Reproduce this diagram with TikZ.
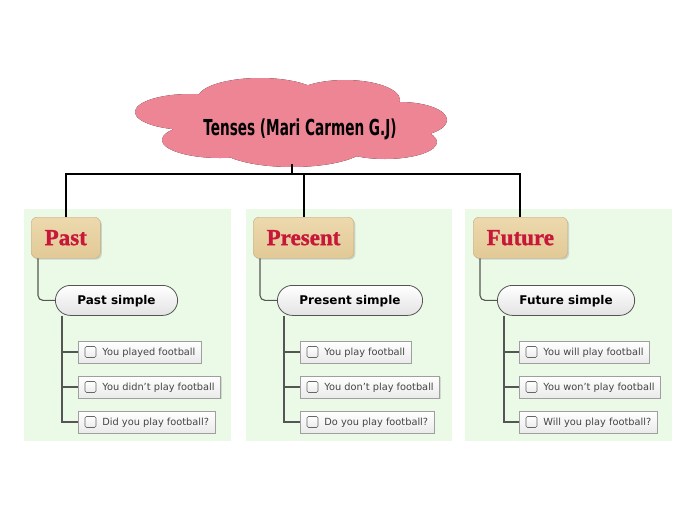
\documentclass[tikz,border=0pt]{standalone}
\usepackage{fontspec}
\setmainfont{DejaVu Sans}
\newfontfamily\titlefont[FakeStretch=0.62]{DejaVu Sans}
\newfontfamily\topicfont[FakeBold=1.3]{Liberation Serif}
\usetikzlibrary{shadows}
\definecolor{panelgreen}{HTML}{EBFAE6}
\definecolor{cloudpink}{HTML}{F88F9D}
\definecolor{clouddark}{HTML}{EE8595}
\definecolor{tantop}{HTML}{EDD9AE}
\definecolor{tanbot}{HTML}{E2C996}
\definecolor{topicred}{HTML}{C8183A}
\definecolor{linegray}{HTML}{555555}
\definecolor{itemtext}{HTML}{444444}
\begin{document}
\begin{tikzpicture}[x=1pt,y=-1pt,
  panel/.style={fill=panelgreen,draw=none},
  topic/.style={draw=tanbot!85!black, line width=0.4pt, top color=tantop, bottom color=tanbot,
    rounded corners=6, minimum height=41, inner xsep=13.5, inner ysep=0,
    font=\topicfont\bfseries\fontsize{23}{23}\selectfont, text=topicred, anchor=north west,
    drop shadow={shadow xshift=1.5pt, shadow yshift=-1.5pt, opacity=0.3}},
  pill/.style={draw=linegray, line width=0.8pt, rounded corners=15, top color=white, bottom color=gray!22,
    minimum height=30, inner xsep=22, inner ysep=0, text height=10, text depth=1.2,
    font=\bfseries\fontsize{12}{12}\selectfont, anchor=north west},
  item/.style={draw=gray!75, line width=0.7pt, top color=white, bottom color=gray!16,
    minimum height=22, inner xsep=6, inner ysep=0, text height=8, text depth=1,
    font=\fontsize{9.8}{10}\selectfont, text=itemtext, anchor=west,
    drop shadow={shadow xshift=1pt, shadow yshift=-1pt, opacity=0.25}},
  conn/.style={draw=linegray, line width=1.1pt},
  topconn/.style={draw=black, line width=2pt},
  cbox/.style={draw=gray!80!black, line width=0.6pt, rounded corners=1.5, top color=white, bottom color=gray!15}
]
\useasboundingbox (0,0) rectangle (696,520);

% cloud
\begin{scope}
\clip (190,112) ellipse [x radius=55, y radius=18]
      (260,98) ellipse [x radius=62, y radius=20]
      (345,100) ellipse [x radius=55, y radius=20]
      (400,120) ellipse [x radius=47, y radius=18]
      (385,142) ellipse [x radius=52, y radius=17]
      (220,140) ellipse [x radius=58, y radius=18]
      (292,145) ellipse [x radius=75, y radius=22]
      (292,122) ellipse [x radius=110, y radius=28];
\fill[top color=clouddark, middle color=cloudpink, bottom color=clouddark] (130,76) rectangle (450,170);
\end{scope}
\node[font=\titlefont\bfseries\fontsize{22}{22}\selectfont, text=black] (root) at (300,129) {Tenses (Mari Carmen G.J)};
\coordinate (cloudbot) at (292,164);
\coordinate (bus) at (292,174);

% panels
\fill[panel] (24,209) rectangle (231,441);
\fill[panel] (246,209) rectangle (452,441);
\fill[panel] (465,209) rectangle (672,441);

% nodes panel 1
\node[topic] (past) at (31,217) {Past};
\node[pill] (pastS) at (55,285) {Past simple};
\node[item] (pa1) at (78,352) {\hspace*{18pt}You played football};
\node[item] (pa2) at (78,387) {\hspace*{18pt}You didn't play football};
\node[item] (pa3) at (78,422) {\hspace*{18pt}Did you play football?};

% nodes panel 2
\node[topic] (present) at (253,217) {Present};
\node[pill] (presS) at (277,285) {Present simple};
\node[item] (pr1) at (300,352) {\hspace*{18pt}You play football};
\node[item] (pr2) at (300,387) {\hspace*{18pt}You don't play football};
\node[item] (pr3) at (300,422) {\hspace*{18pt}Do you play football?};

% nodes panel 3
\node[topic] (future) at (473,217) {Future};
\node[pill] (futS) at (497,285) {Future simple};
\node[item] (fu1) at (519,352) {\hspace*{18pt}You will play football};
\node[item] (fu2) at (519,387) {\hspace*{18pt}You won't play football};
\node[item] (fu3) at (519,422) {\hspace*{18pt}Will you play football?};

% checkboxes
\foreach \n in {pa1,pa2,pa3,pr1,pr2,pr3,fu1,fu2,fu3}{
  \path[cbox] ([shift={(7,-5.5)}]\n.west) rectangle ++(11,11);
}

% top connectors
\draw[topconn] (cloudbot) -- (bus);
\draw[topconn] (bus) -| (past.north);
\draw[topconn] (bus) -| (present.north);
\draw[topconn] (bus) -| (future.north);

% topic to subtopic
\draw[conn, rounded corners=5] ([xshift=7pt]past.south west) |- (pastS.west);
\draw[conn, rounded corners=5] ([xshift=7pt]present.south west) |- (presS.west);
\draw[conn, rounded corners=5] ([xshift=7pt]future.south west) |- (futS.west);

% subtopic to items
\foreach \s/\a/\b/\c in {pastS/pa1/pa2/pa3, presS/pr1/pr2/pr3, futS/fu1/fu2/fu3}{
  \draw[conn] ([xshift=7pt]\s.south west) |- (\a.west);
  \draw[conn] ([xshift=7pt]\s.south west) |- (\b.west);
  \draw[conn] ([xshift=7pt]\s.south west) |- (\c.west);
}
\end{tikzpicture}
\end{document}
